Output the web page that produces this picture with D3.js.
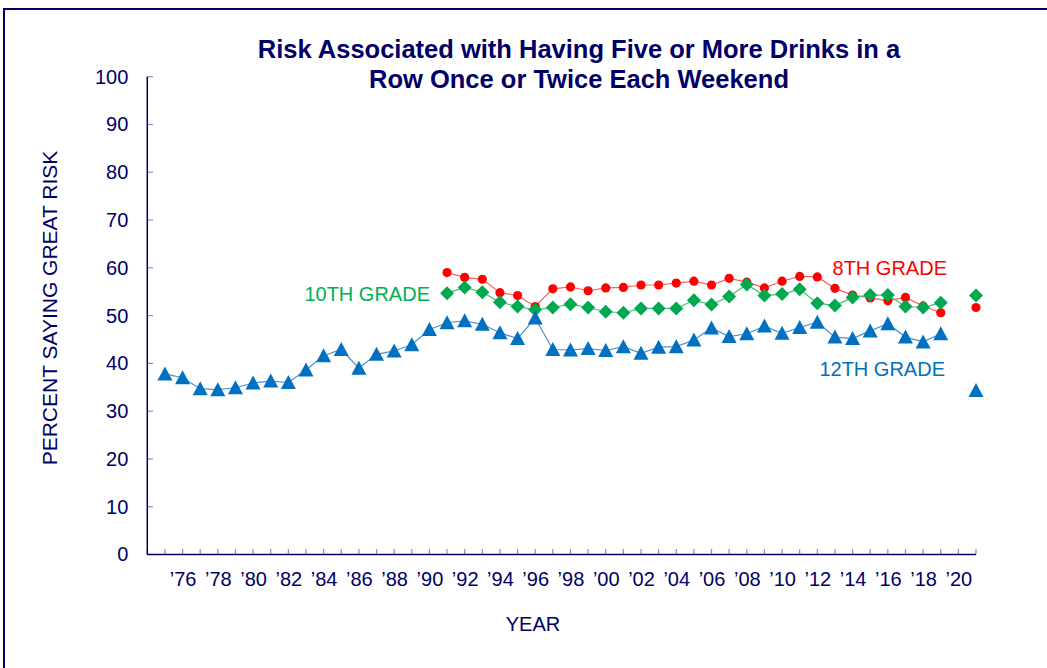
<!DOCTYPE html>
<html><head><meta charset="utf-8">
<script src="https://cdn.jsdelivr.net/npm/d3@7"></script>
<style>body{margin:0;background:#fff}svg{display:block;font-family:"Liberation Sans",Arial,sans-serif}</style>
</head><body><svg id="c" width="1047" height="668"></svg>
<script>
const years12 = [1975,1976,1977,1978,1979,1980,1981,1982,1983,1984,1985,1986,1987,1988,1989,1990,1991,1992,1993,1994,1995,1996,1997,1998,1999,2000,2001,2002,2003,2004,2005,2006,2007,2008,2009,2010,2011,2012,2013,2014,2015,2016,2017,2018,2019,2021];
const grade12 = [37.8,37.0,34.7,34.5,34.9,35.9,36.3,36.0,38.6,41.6,42.9,39.0,41.9,42.6,43.9,47.1,48.5,48.9,48.2,46.4,45.2,49.5,42.9,42.8,43.1,42.7,43.5,42.1,43.4,43.5,44.9,47.4,45.6,46.2,47.8,46.3,47.5,48.6,45.5,45.2,46.8,48.3,45.5,44.5,46.2,34.3];
const years810 = [1991,1992,1993,1994,1995,1996,1997,1998,1999,2000,2001,2002,2003,2004,2005,2006,2007,2008,2009,2010,2011,2012,2013,2014,2015,2016,2017,2018,2019,2021];
const grade8 = [59.0,58.0,57.6,54.8,54.2,51.9,55.6,56.0,55.2,55.8,55.9,56.4,56.4,56.8,57.2,56.4,57.8,57.0,55.8,57.2,58.2,58.1,55.7,54.3,53.7,53.1,53.8,52.0,50.6,51.7];
const grade10 = [54.7,55.9,54.9,52.8,51.9,51.2,51.7,52.4,51.7,50.8,50.6,51.5,51.5,51.5,53.2,52.3,54.0,56.5,54.2,54.5,55.5,52.6,52.1,53.8,54.3,54.3,51.9,51.7,52.7,54.2];
const yTicks = [0,10,20,30,40,50,60,70,80,90,100];
const xLabelYears = d3.range(1976, 2021, 2);

const navy = "#000066";
const svg = d3.select("#c");
const x = d3.scaleLinear().domain([1974, 2021]).range([147.3, 976]);
const y = d3.scaleLinear().domain([0, 100]).range([554.5, 76.7]);

// frame
svg.append("rect").attr("x",4).attr("y",9).attr("width",1100).attr("height",700)
  .attr("fill","none").attr("stroke",navy).attr("stroke-width",2);

// title
const title = svg.append("text").attr("text-anchor","middle").attr("fill",navy)
  .attr("font-weight","bold").attr("font-size",25.5);
title.append("tspan").attr("x",579).attr("y",58).text("Risk Associated with Having Five or More Drinks in a");
title.append("tspan").attr("x",579).attr("y",88).text("Row Once or Twice Each Weekend");

// y axis
const yAxis = d3.axisLeft(y).tickValues(yTicks).tickSize(0).tickPadding(19);
const gy = svg.append("g").attr("transform","translate(147.3,0)").call(yAxis);
gy.select(".domain").remove();
gy.selectAll("text").attr("fill",navy).attr("font-size",20).attr("font-family","Liberation Sans, Arial, sans-serif");
svg.append("g").selectAll("line").data(yTicks).join("line")
  .attr("x1",147.3).attr("x2",153).attr("y1",d=>y(d)).attr("y2",d=>y(d))
  .attr("stroke","#8c8cbf").attr("stroke-width",1.2);

// x axis ticks (every year)
svg.append("g").selectAll("line").data(d3.range(1974, 2022)).join("line")
  .attr("x1",d=>x(d)).attr("x2",d=>x(d)).attr("y1",554.5).attr("y2",549)
  .attr("stroke","#8c8cbf").attr("stroke-width",1.2);
const xAxis = d3.axisBottom(x).tickValues(xLabelYears).tickSize(0).tickPadding(17)
  .tickFormat(d => "\u2019" + String(d).slice(2));
const gx = svg.append("g").attr("transform","translate(0,554.5)").call(xAxis);
gx.select(".domain").remove();
gx.selectAll("text").attr("fill",navy).attr("font-size",20).attr("font-family","Liberation Sans, Arial, sans-serif");

// axis lines
svg.append("line").attr("x1",147.3).attr("x2",147.3).attr("y1",76.7).attr("y2",554.5).attr("stroke",navy).attr("stroke-width",1.5);
svg.append("line").attr("x1",147.3).attr("x2",976).attr("y1",554.5).attr("y2",554.5).attr("stroke",navy).attr("stroke-width",1.5);

// axis titles
svg.append("text").attr("transform","translate(57,308) rotate(-90)").attr("text-anchor","middle")
  .attr("fill",navy).attr("font-size",21).text("PERCENT SAYING GREAT RISK");
svg.append("text").attr("x",533).attr("y",631).attr("text-anchor","middle")
  .attr("fill",navy).attr("font-size",20).text("YEAR");

function series(years, vals, lineColor) {
  const pts = years.map((yr,i)=>({yr, v: vals[i]}));
  const line = d3.line().x(d=>x(d.yr)).y(d=>y(d.v));
  svg.append("path").datum(pts.filter(d=>d.yr<=2019)).attr("d",line)
    .attr("fill","none").attr("stroke",lineColor).attr("stroke-width",1.2);
  return pts;
}
const p8 = series(years810, grade8, "#ff6060");
const p10 = series(years810, grade10, "#40c070");
const p12 = series(years12, grade12, "#4a90d0");

svg.append("g").selectAll("circle").data(p8).join("circle")
  .attr("cx",d=>x(d.yr)).attr("cy",d=>y(d.v)).attr("r",4.6).attr("fill","#ff0000");
svg.append("g").selectAll("path").data(p10).join("path")
  .attr("transform",d=>`translate(${x(d.yr)},${y(d.v)})`)
  .attr("d","M0,-7L7,0L0,7L-7,0Z").attr("fill","#00a94f");
svg.append("g").selectAll("path").data(p12).join("path")
  .attr("transform",d=>`translate(${x(d.yr)},${y(d.v)})`)
  .attr("d","M0,-7.5L7.5,6.5L-7.5,6.5Z").attr("fill","#0070c0");

// series labels
svg.append("text").attr("x",430).attr("y",301).attr("text-anchor","end").attr("fill","#00b050").attr("font-size",20).text("10TH GRADE");
svg.append("text").attr("x",947).attr("y",275).attr("text-anchor","end").attr("fill","#ff0000").attr("font-size",20).text("8TH GRADE");
svg.append("text").attr("x",945).attr("y",376).attr("text-anchor","end").attr("fill","#0070c0").attr("font-size",20).text("12TH GRADE");
</script></body></html>
